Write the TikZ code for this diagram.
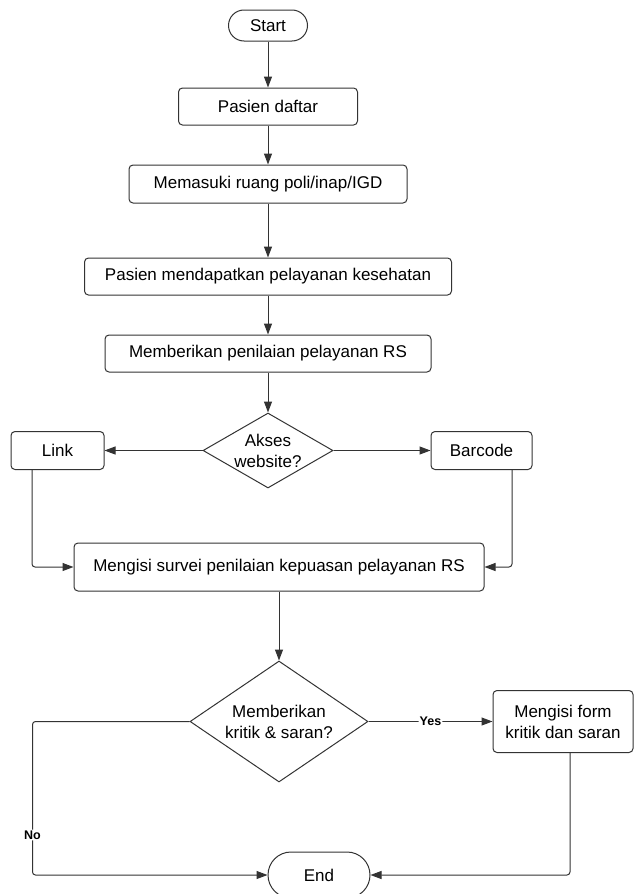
\documentclass[tikz,border=0pt]{standalone}
\usepackage{fontspec}
\setmainfont{Liberation Sans}
\usetikzlibrary{positioning, arrows.meta, shapes.geometric}

\begin{document}
\begin{tikzpicture}[
        x=1pt, y=-1pt,
        node distance=40pt and 40pt,
        >={Triangle[length=11pt, width=8pt]},
        % Styles
        termbox/.style={rectangle, draw=black!80, line width=1pt, rounded corners=15.5pt,
                minimum height=31pt, minimum width=79pt, align=center,
                font=\fontsize{17pt}{21pt}\selectfont},
        procbox/.style={rectangle, draw=black!80, line width=1pt, rounded corners=4pt,
                minimum height=37pt, inner sep=0pt, align=center,
                font=\fontsize{17pt}{21pt}\selectfont},
        decbox/.style={diamond, draw=black!80, line width=1pt, inner sep=0pt,
                align=center, font=\fontsize{17pt}{21pt}\selectfont},
        arrow/.style={->, line width=1pt, black!80, rounded corners=3pt},
        choicelab/.style={font=\bfseries\fontsize{12.5pt}{14pt}\selectfont, text=black,
                fill=white, inner sep=1pt}, ]

        \useasboundingbox (0,0) rectangle (635,894);

        % === MAIN FLOW ===
        \node[termbox] (start) at (268,25.5) {Start};
        \node[procbox, minimum width=179pt, below=46pt of start] (daftar) {Pasien daftar};
        \node[procbox, minimum width=278pt, minimum height=38pt, below=39pt of daftar] (masuk) {Memasuki ruang poli/inap/IGD};
        \node[procbox, minimum width=367pt, below=54pt of masuk] (layanan) {Pasien mendapatkan pelayanan kesehatan};
        \node[procbox, minimum width=326pt, below=39pt of layanan] (nilai) {Memberikan penilaian pelayanan RS};
        \node[decbox, aspect=1.73, minimum width=130pt, minimum height=75pt, below=40pt of nilai] (akses) {Akses\\website?};

        % Main Connections
        \draw[arrow] (start) -- (daftar);
        \draw[arrow] (daftar) -- (masuk);
        \draw[arrow] (masuk) -- (layanan);
        \draw[arrow] (layanan) -- (nilai);
        \draw[arrow] (nilai) -- (akses);

        % === ACCESS BRANCHES ===
        \node[procbox, minimum width=93pt, minimum height=38pt, left=98pt of akses] (link) {Link};
        \node[procbox, minimum width=101pt, minimum height=38pt, right=97pt of akses] (barcode) {Barcode};
        \node[procbox, minimum width=410pt, minimum height=48pt, below=54pt of akses, xshift=11pt] (survei) {Mengisi survei penilaian kepuasan pelayanan RS};

        \draw[arrow] (akses) -- (link);
        \draw[arrow] (akses) -- (barcode);
        \draw[arrow] ([xshift=-25.5pt]link.south) |- (survei.west);
        \draw[arrow] ([xshift=30.5pt]barcode.south) |- (survei.east);

        % === FEEDBACK ===
        \node[decbox, aspect=1.47, minimum width=178pt, minimum height=121pt, below=69pt of survei] (kritik) {Memberikan\\kritik \& saran?};
        \node[procbox, minimum width=140pt, minimum height=62pt, right=124pt of kritik] (form) {Mengisi form\\kritik dan saran};
        \node[termbox, minimum width=102pt, minimum height=46pt, rounded corners=23pt, below=69pt of kritik, xshift=40pt] (end) {End};

        \draw[arrow] (survei) -- (kritik);
        \draw[arrow] (kritik) -- node[choicelab] {Yes} (form);
        \draw[arrow] (kritik.west) -- ++(-157,0) |- node[choicelab, pos=0.37] {No} (end.west);
        \draw[arrow] ([xshift=7pt]form.south) |- (end.east);

    \end{tikzpicture}
\end{document}
